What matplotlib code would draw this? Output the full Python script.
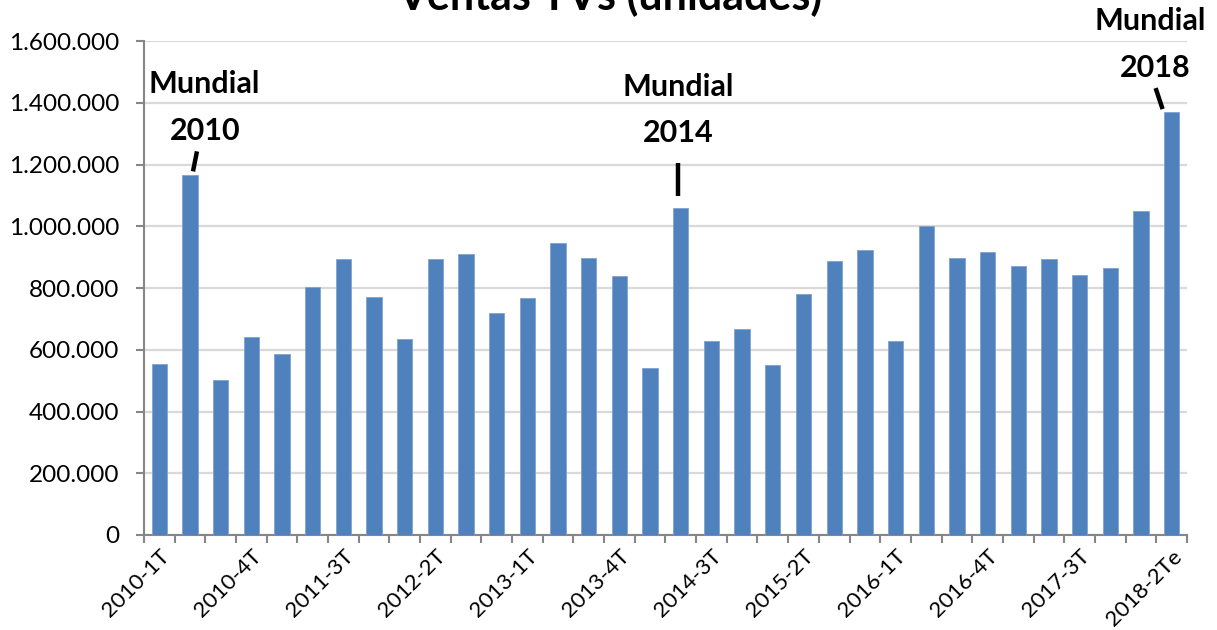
import matplotlib.pyplot as plt
from matplotlib.ticker import FuncFormatter
import numpy as np

# --- data (unidades) ---
quarters = []
for year in range(2010, 2018):
    for q in range(1, 5):
        quarters.append(f"{year}-{q}T")
quarters += ["2018-1T", "2018-2Te"]

ventas = [553000, 1165000, 501000, 640000, 585000, 802000, 893000, 770000,
          634000, 895000, 911000, 719000, 767000, 946000, 896000, 840000,
          541000, 1058000, 627000, 666000, 552000, 781000, 888000, 924000,
          627000, 1000000, 898000, 918000, 872000, 895000, 843000, 866000,
          1050000, 1370000]

# world cup quarters that get a label
mundiales = {"2010-2T": "2010", "2014-2T": "2014", "2018-2Te": "2018"}

plt.rcParams['font.family'] = ['Lato', 'DejaVu Sans']

fig = plt.figure(figsize=(12.17, 6.30), dpi=100)
ax = fig.add_axes([0.1183, 0.1508, 0.857, 0.784])

x = np.arange(len(quarters))
ax.bar(x, ventas, width=0.5, color='#4F81BD', edgecolor='#7fa3cf', linewidth=0.6, zorder=3)

ax.set_xlim(-0.5, len(quarters) - 0.5)
ax.set_ylim(0, 1600000)
ax.set_yticks(np.arange(0, 1600001, 200000))
ax.yaxis.set_major_formatter(FuncFormatter(lambda v, p: f"{int(v):,}".replace(",", ".")))
ax.grid(axis='y', color='#d9d9d9', linewidth=1.6, zorder=0)

# labels every third quarter, tick marks on the category borders
ax.set_xticks(x[::3])
ax.set_xticklabels(quarters[::3], rotation=45, ha='right', rotation_mode='anchor')
ax.set_xticks(np.arange(-0.5, len(quarters)), minor=True)
ax.tick_params(axis='x', which='major', length=0, pad=8, labelsize=16)
ax.tick_params(axis='x', which='minor', length=6, width=1.5, color='#868686')
ax.tick_params(axis='y', length=6, width=1.5, color='#868686', labelsize=17.5, pad=12)

for side in ['top', 'right']:
    ax.spines[side].set_visible(False)
for side in ['left', 'bottom']:
    ax.spines[side].set_color('#868686')
    ax.spines[side].set_linewidth(1.5)

# annotation offsets in pixels relative to bar top: (Mundial, year, line start, line end)
offsets = {
    "2010": [(14, 91), (15, 44), (3, 4), (7, 24)],
    "2014": [(-3, 121), (-3, 75), (-3, 12), (-3, 45)],
    "2018": [(-21, 91), (-16, 44), (-9, 3), (-16, 24)],
}
inv = ax.transData.inverted()
for q, label in mundiales.items():
    i = quarters.index(q)
    top = ventas[i]
    o = offsets[label]
    ax.annotate("Mundial", xy=(i, top), xytext=o[0], textcoords='offset pixels',
                ha='center', va='center', fontsize=22, fontweight='bold', annotation_clip=False)
    ax.annotate(label, xy=(i, top), xytext=o[1], textcoords='offset pixels',
                ha='center', va='center', fontsize=22, fontweight='bold', annotation_clip=False)
    base = ax.transData.transform((i, top))
    p0 = inv.transform(base + np.array(o[2]))
    p1 = inv.transform(base + np.array(o[3]))
    ax.plot([p0[0], p1[0]], [p0[1], p1[1]], color='black', lw=3.2,
            solid_capstyle='butt', clip_on=False, zorder=5)

fig.text(0.501, 0.984, "Ventas TVs (unidades)", ha='center', va='baseline',
         fontsize=31, fontweight='bold')

fig.savefig("out.png", dpi=100)
